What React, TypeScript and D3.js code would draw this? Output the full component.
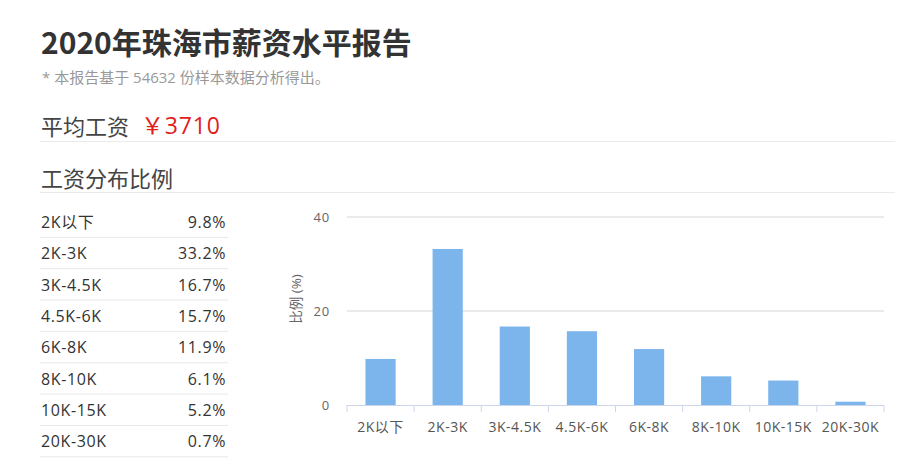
import { useMemo } from 'react';
import * as d3 from 'd3';

const TITLE = '2020年珠海市薪资水平报告';
const SUBTITLE = '* 本报告基于 54632 份样本数据分析得出。';
const AVG_LABEL = '平均工资';
const AVG_VALUE = '￥3710';
const DIST_LABEL = '工资分布比例';

const CATEGORIES = ['2K以下', '2K-3K', '3K-4.5K', '4.5K-6K', '6K-8K', '8K-10K', '10K-15K', '20K-30K'];
const SHARES = [9.8, 33.2, 16.7, 15.7, 11.9, 6.1, 5.2, 0.7];
const Y_TICKS = [0, 20, 40];
const Y_TITLE = '比例 (%)';

const W = 913;
const H = 470;
const FONT = '"Open Sans", "Noto Sans CJK SC", sans-serif';
const TITLE_FONT = '"Noto Sans CJK SC", sans-serif';
const BAR_COLOR = '#7cb5ec';

export default function App() {
  const { x, y } = useMemo(() => {
    const x = d3.scaleBand<string>()
      .domain(CATEGORIES)
      .range([347, 884])
      .paddingInner(0.55)
      .paddingOuter(0.275);
    const y = d3.scaleLinear().domain([0, 40]).range([405, 217]);
    return { x, y };
  }, []);

  const step = x.step();
  const left = x.range()[0];
  // category boundaries for the x-axis tick marks
  const boundaries = d3.range(CATEGORIES.length + 1).map(i => left + i * step);

  const rowTop = 206;
  const rowH = 31.35;

  return (
    <div style={{ position: 'absolute', left: 0, top: 0, width: W, height: H, background: 'white' }}>
      <svg width={W} height={H} style={{ fontFamily: FONT, display: 'block' }}>
        {/* header */}
        <text x={41} y={54} fontSize={30} fontWeight={700} fill="#333" fontFamily={TITLE_FONT}>{TITLE}</text>
        <text x={42} y={83} fontSize={15} fill="#999">{SUBTITLE}</text>

        <text x={41} y={135} fontSize={22} fill="#444">{AVG_LABEL}</text>
        <text x={141} y={134} fontSize={23} fill="#e0201b" letterSpacing={0.8}>{AVG_VALUE}</text>
        <line x1={40} x2={895} y1={141.5} y2={141.5} stroke="#eaeaea" />

        <text x={41} y={187} fontSize={22} fill="#444">{DIST_LABEL}</text>
        <line x1={40} x2={895} y1={192.5} y2={192.5} stroke="#eaeaea" />

        {/* table */}
        {CATEGORIES.map((c, i) => {
          const top = rowTop + i * rowH;
          return (
            <g key={c}>
              <text x={41} y={top + 22} fontSize={16} fill="#333" letterSpacing={0.6}>{c}</text>
              <text x={226} y={top + 22} fontSize={16} fill="#333" textAnchor="end" letterSpacing={0.6}>
                {SHARES[i].toFixed(1)}%
              </text>
              <line x1={40} x2={228} y1={top + rowH} y2={top + rowH} stroke="#e8e8e8" />
            </g>
          );
        })}

        {/* chart gridlines + y labels */}
        {Y_TICKS.map(t => (
          <g key={t}>
            {t !== 0 && (
              <line x1={347} x2={884} y1={y(t)} y2={y(t)} stroke="#d6d6d6" />
            )}
            <text x={330} y={y(t)} dy="0.35em" fontSize={13} fill="#666" textAnchor="end" letterSpacing={0.8}>{t}</text>
          </g>
        ))}
        <text
          transform={`translate(296,299) rotate(-90)`}
          fontSize={13.5}
          fill="#666"
          textAnchor="middle"
          dy="0.35em"
        >
          {Y_TITLE}
        </text>

        {/* bars */}
        {CATEGORIES.map((c, i) => (
          <rect
            key={c}
            x={x(c)}
            y={y(SHARES[i])}
            width={x.bandwidth()}
            height={y(0) - y(SHARES[i])}
            fill={BAR_COLOR}
          />
        ))}

        {/* x axis */}
        <line x1={347} x2={884} y1={405.5} y2={405.5} stroke="#ccd6eb" />
        {boundaries.map((b, i) => (
          <line key={i} x1={b} x2={b} y1={405} y2={412} stroke="#ccd6eb" />
        ))}
        {CATEGORIES.map(c => (
          <text
            key={c}
            x={(x(c) ?? 0) + x.bandwidth() / 2}
            y={427}
            dy="0.35em"
            fontSize={14}
            fill="#555"
            textAnchor="middle"
            letterSpacing={0.5}
          >
            {c}
          </text>
        ))}
      </svg>
    </div>
  );
}
